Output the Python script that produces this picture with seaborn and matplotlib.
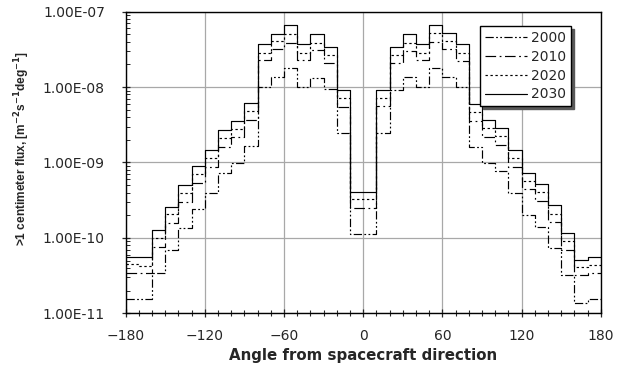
import numpy as np
import pandas as pd
import matplotlib
matplotlib.use("Agg")
import matplotlib.pyplot as plt
import seaborn as sns

# ---- data (bin edges every 10 degrees) ----
edges = list(range(-180, 181, 10))
angles = [-175, -165, -155, -145, -135, -125, -115, -105, -95, -85,
          -75, -65, -55, -45, -35, -25, -15, -5, 5, 15,
          25, 35, 45, 55, 65, 75, 85, 95, 105, 115,
          125, 135, 145, 155, 165, 175]

flux_2030 = [5.6e-11, 5.5e-11, 1.27e-10, 2.6e-10, 5.0e-10, 9.0e-10, 1.47e-9, 2.7e-9, 3.6e-9, 6.1e-9,
             3.7e-8, 5.1e-8, 6.6e-8, 3.7e-8, 5.0e-8, 3.4e-8, 9.2e-9, 4.1e-10, 4.1e-10, 9.2e-9,
             3.4e-8, 5.0e-8, 3.7e-8, 6.6e-8, 5.2e-8, 3.7e-8, 6.0e-9, 3.7e-9, 2.9e-9, 1.47e-9,
             7.3e-10, 5.2e-10, 2.7e-10, 1.17e-10, 5.1e-11, 5.5e-11]
flux_2020 = [4.45e-11, 4.3e-11, 9.9e-11, 2.05e-10, 3.9e-10, 7.1e-10, 1.15e-9, 2.1e-9, 2.8e-9, 4.75e-9,
             2.86e-8, 4.1e-8, 5.1e-8, 2.86e-8, 3.9e-8, 2.67e-8, 7.1e-9, 3.25e-10, 3.25e-10, 7.1e-9,
             2.7e-8, 3.8e-8, 2.86e-8, 5.15e-8, 4.1e-8, 2.8e-8, 4.7e-9, 2.9e-9, 2.25e-9, 1.15e-9,
             5.7e-10, 4.05e-10, 2.1e-10, 9.1e-11, 4.05e-11, 4.4e-11]
flux_2010 = [3.4e-11, 3.4e-11, 7.6e-11, 1.56e-10, 3.0e-10, 5.4e-10, 8.8e-10, 1.63e-9, 2.15e-9, 3.65e-9,
             2.29e-8, 3.2e-8, 3.9e-8, 2.29e-8, 3.1e-8, 2.11e-8, 5.5e-9, 2.5e-10, 2.5e-10, 5.6e-9,
             2.11e-8, 2.98e-8, 2.29e-8, 4.0e-8, 3.17e-8, 2.22e-8, 3.6e-9, 2.2e-9, 1.73e-9, 8.8e-10,
             4.4e-10, 3.1e-10, 1.62e-10, 7.0e-11, 3.2e-11, 3.4e-11]
flux_2000 = [1.55e-11, 1.55e-11, 3.4e-11, 7.0e-11, 1.35e-10, 2.45e-10, 4.0e-10, 7.3e-10, 9.7e-10, 1.65e-9,
             1.01e-8, 1.38e-8, 1.77e-8, 1.01e-8, 1.33e-8, 9.3e-9, 2.48e-9, 1.12e-10, 1.12e-10, 2.48e-9,
             9.2e-9, 1.35e-8, 1.01e-8, 1.77e-8, 1.38e-8, 9.9e-9, 1.62e-9, 1.0e-9, 7.8e-10, 4.0e-10,
             2.0e-10, 1.4e-10, 7.3e-11, 3.2e-11, 1.38e-11, 1.55e-11]

years = ["2000", "2010", "2020", "2030"]
series = [flux_2000, flux_2010, flux_2020, flux_2030]
dash_styles = [(0, (7, 2, 1.5, 2, 1.5, 2)), (0, (9, 3, 1.5, 3)), (0, (2, 2.2)), "-"]

sns.set_style("white")
plt.rcParams["font.family"] = ["DejaVu Sans"]

fig = plt.figure(figsize=(6.23, 3.68), dpi=100)
W, H = 623, 368
x0, x1, y0, y1 = 125.7, 600.7, 11.7, 313.3
ax = fig.add_axes([x0 / W, 1 - y1 / H, (x1 - x0) / W, (y1 - y0) / H])

for yr, vals, ls in zip(years, series, dash_styles):
    df = pd.DataFrame({"angle": angles, "flux": vals})
    sns.histplot(data=df, x="angle", weights="flux", bins=edges, element="step",
                 fill=False, color="black", linewidth=0.85, linestyle=ls, ax=ax)

ax.set_yscale("log")
ax.set_xlim(-180, 180)
ax.set_ylim(1e-11, 1e-7)
ax.set_xticks(range(-180, 181, 60))
ax.set_xticks(range(-180, 181, 10), minor=True)
ax.set_yticks([1e-11, 1e-10, 1e-9, 1e-8, 1e-7])
ax.set_yticklabels(["1.00E-11", "1.00E-10", "1.00E-09", "1.00E-08", "1.00E-07"])
ax.grid(True, which="major", color="#a8a8a8", linewidth=0.9)
ax.set_axisbelow(True)
for s in ax.spines.values():
    s.set_color("black")
    s.set_linewidth(1.0)

ax.tick_params(axis="x", which="major", direction="inout", length=6, width=0.9,
               labelsize=10, pad=8, bottom=True)
ax.tick_params(axis="x", which="minor", direction="inout", length=4, width=0.8, bottom=True)
ax.tick_params(axis="y", which="major", direction="inout", length=6, width=0.9,
               labelsize=10, pad=12, left=True)
ax.tick_params(axis="y", which="minor", direction="in", length=3, width=0.7, left=True)

ax.set_xlabel("Angle from spacecraft direction", fontsize=10.8, fontweight="bold", labelpad=4)
ax.set_ylabel(r">1 centimeter flux, [m$^{\mathbf{-2}}$s$^{\mathbf{-1}}$deg$^{\mathbf{-1}}$]",
              fontsize=8.6, fontweight="bold", family=["Liberation Sans", "DejaVu Sans"])
ax.yaxis.set_label_coords(-0.197, 0.545)

leg_handles = [plt.Line2D([], [], color="black", linewidth=0.85, linestyle=ls) for ls in dash_styles]
leg = ax.legend(leg_handles, years, loc="upper right", bbox_to_anchor=(0.9375, 0.9526),
                borderaxespad=0, fontsize=10, handlelength=3.0, handletextpad=0.3,
                labelspacing=0.35, borderpad=0.35, fancybox=False, framealpha=1,
                edgecolor="black", shadow={"color": "0.35", "alpha": 1})
leg.get_frame().set_linewidth(1.0)

fig.savefig("out.png", dpi=100)
